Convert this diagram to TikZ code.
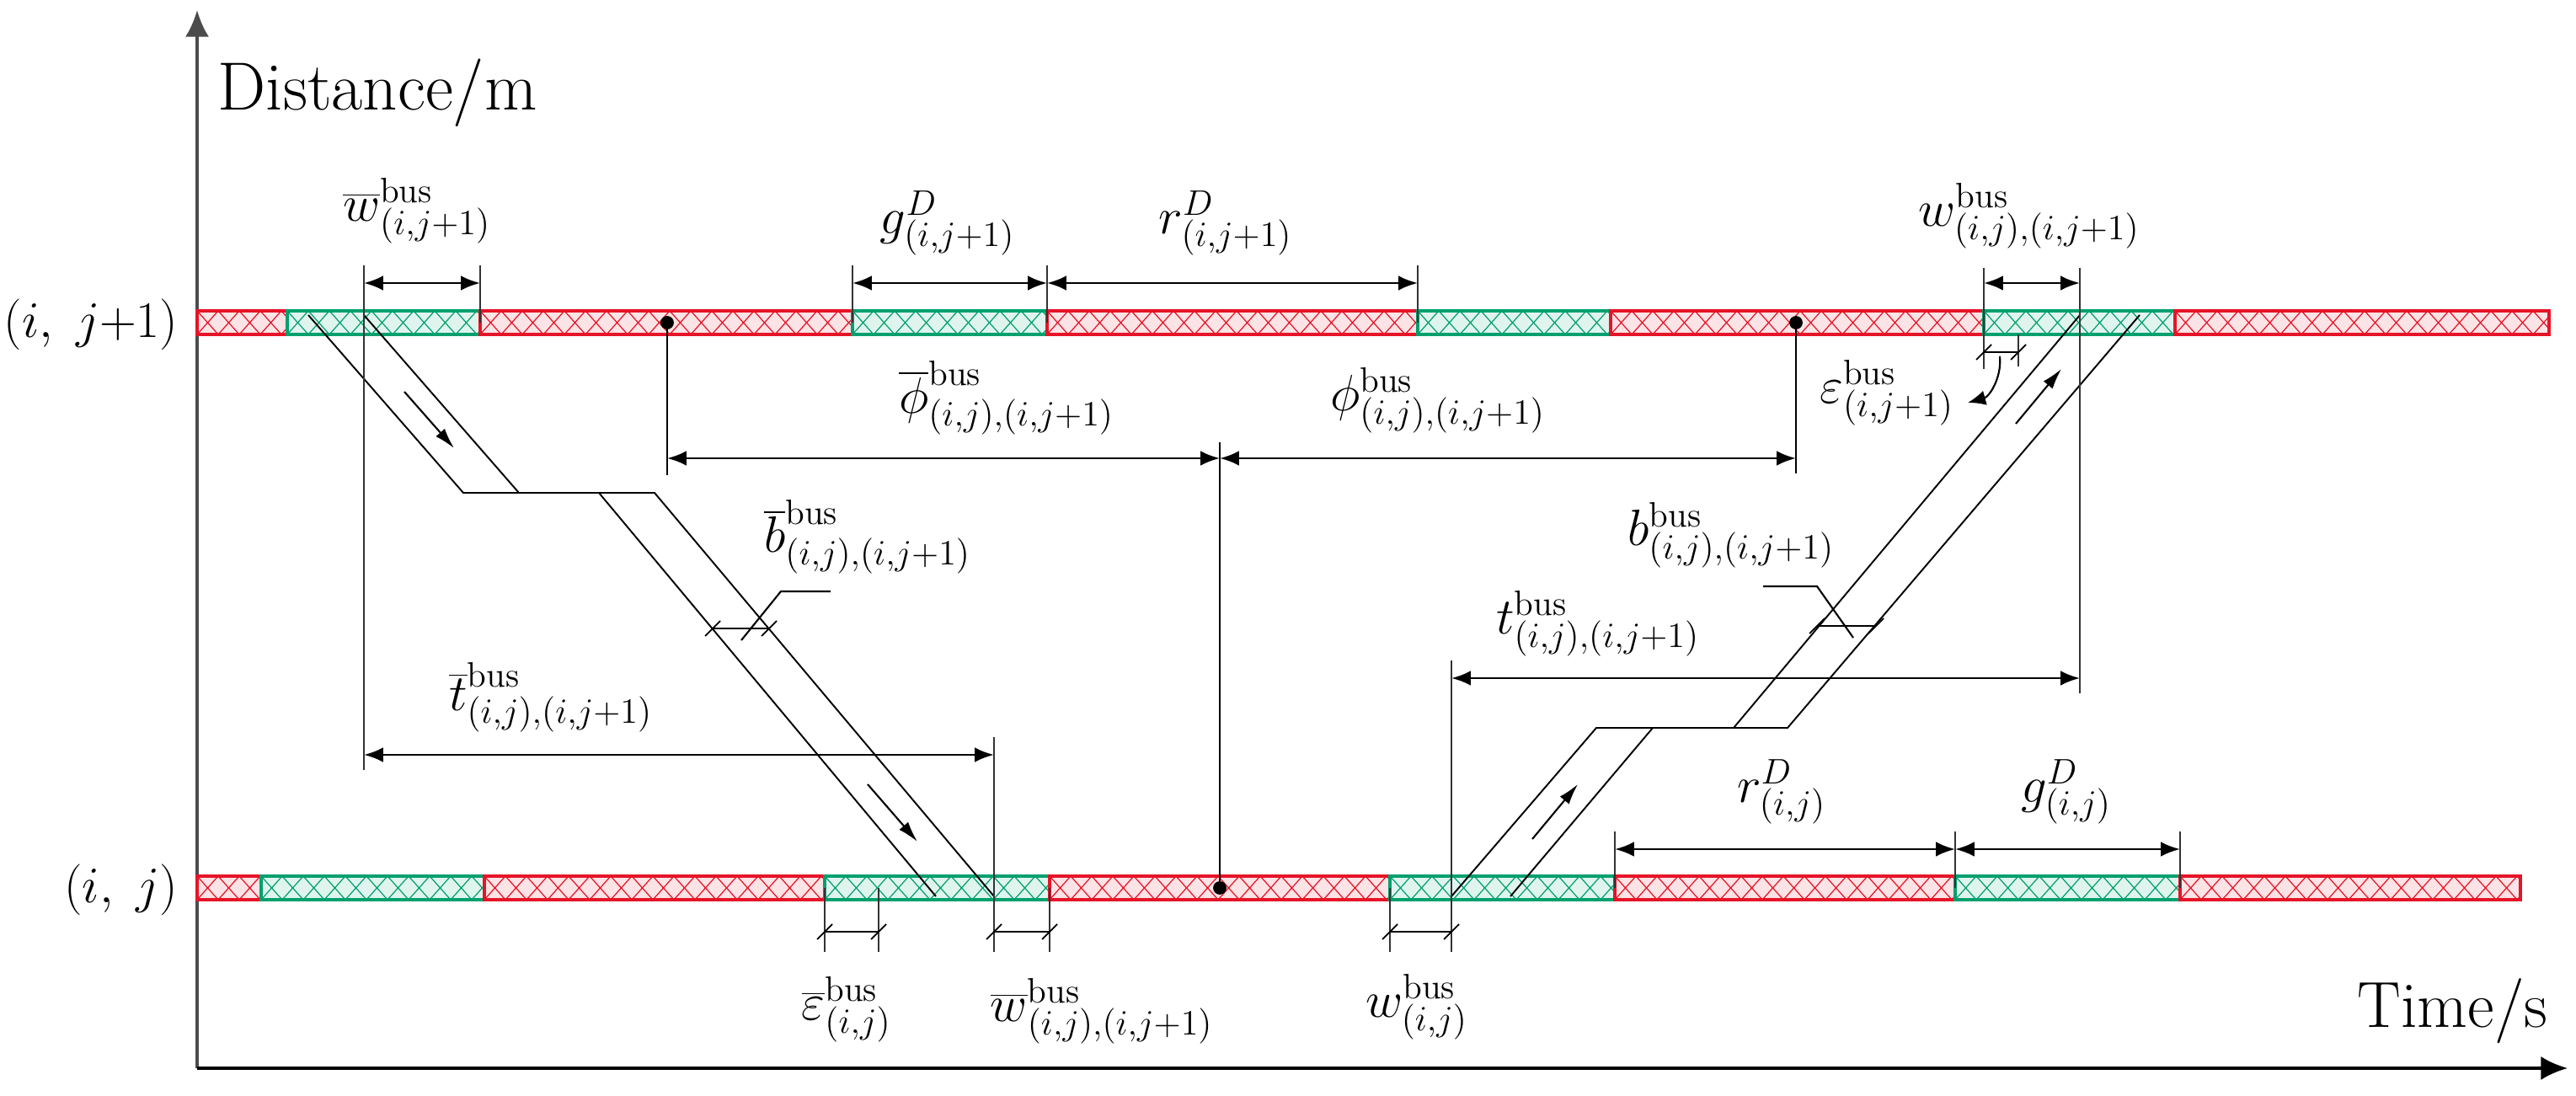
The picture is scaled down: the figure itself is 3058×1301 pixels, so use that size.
\documentclass[tikz,border=0pt]{standalone}
\usepackage{fontspec}
\usetikzlibrary{arrows.meta}
\definecolor{barred}{RGB}{230,20,40}
\definecolor{bargreen}{RGB}{0,160,110}
\newcommand\hseg[4]{%
  \begin{scope}
    \clip (#1,#4-14) rectangle (#2,#4+14);
    \fill[#3!12] (#1,#4-14) rectangle (#2,#4+14);
    \pgfmathtruncatemacro\nn{(#2-#1)/25+1}
    \foreach \i in {0,...,\nn}{\draw[#3,line width=0.35pt] ({#1+25*\i},#4-14) -- ({#1+25*(\i+1)},#4+14) ({#1+25*\i},#4+14) -- ({#1+25*(\i+1)},#4-14);}
  \end{scope}
  \draw[#3,line width=1.3pt] (#1,#4-14) rectangle (#2,#4+14);}
\newcommand\tdim[3]{%
  \draw[line width=0.8pt] (#1,#3) -- (#2,#3);
  \draw[line width=0.5pt] (#1-9,#3+9) -- (#1+9,#3-9) (#2-9,#3+9) -- (#2+9,#3-9);}
\begin{document}
\begin{tikzpicture}[x=0.01cm,y=-0.01cm,
  dim/.style={line width=0.8pt,{Latex[length=6.5pt,width=5pt]}-{Latex[length=6.5pt,width=5pt]}},
  ext/.style={line width=0.6pt,black!80},
  traj/.style={line width=0.55pt},
  mv/.style={line width=0.6pt,-{Latex[length=7pt,width=4pt]}},
  lab/.style={inner sep=0pt,font=\fontsize{17}{20}\selectfont},
  dot/.style={circle,fill,inner sep=0pt,minimum size=4.5pt}]
\useasboundingbox (0,0) rectangle (3058,1301);
% axes
\draw[line width=1.1pt,black!70,-{Latex[length=9pt,width=8pt]}] (234,1268) -- (234,12);
\draw[line width=1.1pt,-{Latex[length=9pt,width=8pt]}] (234,1268) -- (3048,1268);
\node[anchor=west,inner sep=0pt,font=\fontsize{23}{26}\selectfont] (ylab) at (258,110) {Distance/m};
\node[anchor=east,inner sep=0pt,font=\fontsize{22}{26}\selectfont] (xlab) at (3025,1200) {Time/s};
\node[anchor=east,inner sep=0pt,font=\fontsize{19}{22}\selectfont] (lj1) at (212,385) {$(i,\;j{+}1)$};
\node[anchor=east,inner sep=0pt,font=\fontsize{19}{22}\selectfont] (lj) at (212,1056) {$(i,\;j)$};
% bars top
\hseg{234}{341}{barred}{383}\hseg{341}{570}{bargreen}{383}\hseg{570}{1012}{barred}{383}
\hseg{1012}{1243}{bargreen}{383}\hseg{1243}{1683}{barred}{383}\hseg{1683}{1912}{bargreen}{383}
\hseg{1912}{2355}{barred}{383}\hseg{2355}{2582}{bargreen}{383}\hseg{2582}{3026}{barred}{383}
% bars bottom
\hseg{234}{310}{barred}{1054}\hseg{310}{575}{bargreen}{1054}\hseg{575}{979}{barred}{1054}
\hseg{979}{1246}{bargreen}{1054}\hseg{1246}{1650}{barred}{1054}\hseg{1650}{1917}{bargreen}{1054}
\hseg{1917}{2321}{barred}{1054}\hseg{2321}{2588}{bargreen}{1054}\hseg{2588}{2992}{barred}{1054}
% left trajectory
\draw[traj] (366,374) -- (550,585) -- (777,585) -- (1180,1064);
\draw[traj] (432,374) -- (616,585);
\draw[traj] (711,585) -- (1111,1064);
\draw[mv] (480,465) -- (539,532);
\draw[mv] (1030,931) -- (1089,999);
% right trajectory
\draw[traj] (1723,1064) -- (1895,864) -- (2122,864) -- (2540,374);
\draw[traj] (1793,1064) -- (1962,864);
\draw[traj] (2058,864) -- (2469,374);
\draw[mv] (1819,996) -- (1873,931);
\draw[mv] (2393,503) -- (2447,438);
% top dimension lines
\draw[ext] (432,315) -- (432,914);
\draw[ext] (570,315) -- (570,383);
\draw[dim] (432,336) -- (570,336);
\node[lab] (wb1) at (495,250) {$\overline{w}^{\mathrm{bus}}_{(i,j+1)}$};
\draw[ext] (1012,315) -- (1012,383);
\draw[ext] (1243,315) -- (1243,383);
\draw[ext] (1683,315) -- (1683,383);
\draw[dim] (1012,336) -- (1243,336);
\draw[dim] (1243,336) -- (1683,336);
\node[lab] (g1) at (1125,265) {$g^{D}_{(i,j+1)}$};
\node[lab] (r1) at (1455,265) {$r^{D}_{(i,j+1)}$};
% phi
\node[dot] (d1) at (792,383) {};
\node[dot] (d2) at (2132,383) {};
\node[dot] (d3) at (1448,1054) {};
\draw[ext,black] (d1.center) -- (792,564);
\draw[ext,black] (d2.center) -- (2132,562);
\draw[ext,black] (1448,525) -- (d3.center);
\draw[dim] (792,544) -- (1448,544);
\draw[dim] (1448,544) -- (2132,544);
\node[lab] (phb) at (1195,472) {$\overline{\phi}^{\mathrm{bus}}_{(i,j),(i,j+1)}$};
\node[lab] (ph) at (1707,475) {$\phi^{\mathrm{bus}}_{(i,j),(i,j+1)}$};
% b bar
\node[lab] (bb) at (1030,637) {$\overline{b}^{\mathrm{bus}}_{(i,j),(i,j+1)}$};
\draw[line width=0.6pt] (986,702) -- (927,702) -- (880,760);
\tdim{846}{913}{746}
% t bar
\draw[ext] (1180,875) -- (1180,1130);
\draw[dim] (432,896) -- (1180,896);
\node[lab] (tb) at (654,828) {$\overline{t}^{\mathrm{bus}}_{(i,j),(i,j+1)}$};
% bottom small dims
\draw[ext] (979,1054) -- (979,1130);
\draw[ext] (1043,1054) -- (1043,1130);
\tdim{979}{1043}{1106}
\node[lab] (eb) at (1005,1198) {$\overline{\varepsilon}^{\mathrm{bus}}_{(i,j)}$};
\draw[ext] (1246,1054) -- (1246,1130);
\tdim{1180}{1246}{1106}
\node[lab] (wb2) at (1308,1200) {$\overline{w}^{\mathrm{bus}}_{(i,j),(i,j+1)}$};
\draw[ext] (1650,1054) -- (1650,1130);
\draw[ext] (1723,784) -- (1723,1130);
\tdim{1650}{1723}{1106}
\node[lab] (w2) at (1682,1195) {$w^{\mathrm{bus}}_{(i,j)}$};
% right top dims
\draw[ext] (2355,318) -- (2355,438);
\draw[ext] (2469,318) -- (2469,823);
\draw[dim] (2355,336) -- (2469,336);
\node[lab] (w1) at (2409,256) {$w^{\mathrm{bus}}_{(i,j),(i,j+1)}$};
\draw[ext] (2396,397) -- (2396,435);
\tdim{2355}{2396}{418}
\draw[line width=0.6pt,-{Latex[length=6pt,width=5pt]}] (2374,423) to[bend left=40] (2336,478);
\node[lab] (e1) at (2240,466) {$\varepsilon^{\mathrm{bus}}_{(i,j+1)}$};
% b
\node[lab] (b) at (2055,635) {$b^{\mathrm{bus}}_{(i,j),(i,j+1)}$};
\draw[line width=0.6pt] (2093,696) -- (2157,696) -- (2200,757);
\tdim{2157}{2227}{743}
% t
\draw[dim] (1723,805) -- (2469,805);
\node[lab] (t) at (1897,740) {$t^{\mathrm{bus}}_{(i,j),(i,j+1)}$};
% r, g (i,j)
\draw[ext] (1917,987) -- (1917,1054);
\draw[ext] (2321,987) -- (2321,1054);
\draw[ext] (2588,987) -- (2588,1054);
\draw[dim] (1917,1008) -- (2321,1008);
\draw[dim] (2321,1008) -- (2588,1008);
\node[lab] (r2) at (2115,940) {$r^{D}_{(i,j)}$};
\node[lab] (g2) at (2453,940) {$g^{D}_{(i,j)}$};
\end{tikzpicture}
\end{document}
